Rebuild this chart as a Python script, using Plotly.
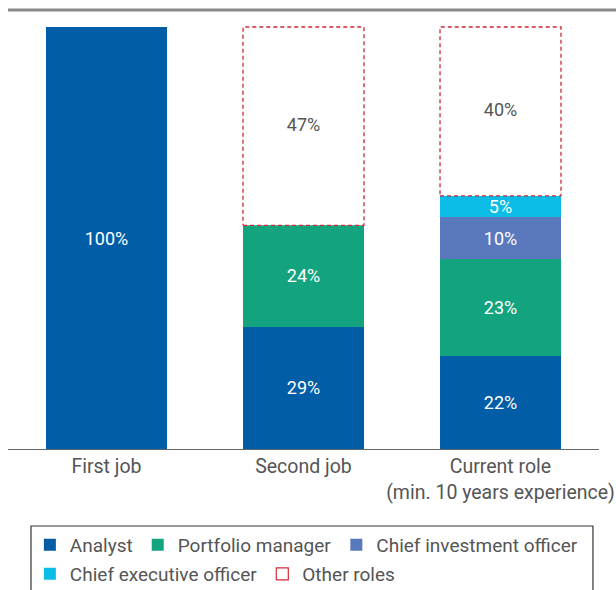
import plotly.graph_objects as go

categories = ["First job", "Second job", "Current role<br>(min. 10 years experience)"]
analyst = [100, 29, 22]
portfolio_manager = [None, 24, 23]
cio = [None, None, 10]
ceo = [None, None, 5]
other_roles = [None, 47, 40]

colors = {
    "Analyst": "#005DA6",
    "Portfolio manager": "#13A47F",
    "Chief investment officer": "#5A78BC",
    "Chief executive officer": "#0ABCE6",
    "Other roles": "#D0283A",
}

FONT = "Roboto"
TXT = "#555555"
BAR_W = 0.614
xs = list(range(len(categories)))

fig = go.Figure()

series = [
    ("Analyst", analyst, "legend"),
    ("Portfolio manager", portfolio_manager, "legend"),
    ("Chief investment officer", cio, "legend"),
    ("Chief executive officer", ceo, "legend2"),
]

for name, vals, lg in series:
    fig.add_trace(go.Bar(
        x=xs, y=[v if v is not None else 0 for v in vals],
        name=name, legend=lg,
        marker=dict(color=colors[name], line=dict(width=0)),
        width=BAR_W,
        text=[f"{v}%" if v else "" for v in vals],
        textposition="inside",
        insidetextanchor="middle",
        constraintext="none",
        textangle=0,
        textfont=dict(color="white", size=18, family=FONT),
        hoverinfo="skip",
    ))

# Other roles: dashed outline box built from data
px, py = [], []
tx, ty, tt = [], [], []
for i in xs:
    v = other_roles[i]
    if v is None:
        continue
    base = sum((s[1][i] or 0) for s in series)
    top = base + v
    x0, x1 = i - BAR_W / 2, i + BAR_W / 2
    px += [x0, x1, x1, x0, x0, None]
    py += [base, base, top, top, base, None]
    tx.append(i)
    ty.append(base + v / 2)
    tt.append(f"{v}%")

fig.add_trace(go.Scatter(
    x=px, y=py, mode="lines", fill="toself", fillcolor="white",
    line=dict(color=colors["Other roles"], width=1.3, dash="4px,3px"),
    name="Other roles", showlegend=False, hoverinfo="skip",
))
fig.add_trace(go.Scatter(
    x=tx, y=ty, mode="text", text=tt, showlegend=False,
    textfont=dict(color=TXT, size=18, family=FONT), hoverinfo="skip",
))
# legend entry for Other roles
fig.add_trace(go.Bar(
    x=[None], y=[None], name="Other roles", legend="legend2",
    marker=dict(color="white", line=dict(color=colors["Other roles"], width=1.2)),
    hoverinfo="skip",
))

legend_common = dict(
    orientation="h", xanchor="left", yanchor="middle",
    borderwidth=0, bgcolor="rgba(0,0,0,0)",
    font=dict(size=19, color=TXT, family=FONT),
    traceorder="normal", itemwidth=30,
)

fig.update_layout(
    width=616, height=590,
    margin=dict(l=8, r=17, t=10, b=141, autoexpand=False),
    barmode="stack",
    plot_bgcolor="white", paper_bgcolor="white",
    font=dict(family=FONT, size=19, color=TXT),
    xaxis=dict(
        tickmode="array", tickvals=xs, ticktext=categories,
        range=[-0.5, 2.5], showline=True, linecolor="#666666", linewidth=1,
        showgrid=False, zeroline=False, ticks="", fixedrange=True,
        tickfont=dict(size=19.5, color=TXT, family=FONT),
    ),
    yaxis=dict(range=[0, 104.03], visible=False, showgrid=False, fixedrange=True),
    legend=dict(x=0.037, y=-0.2187, **legend_common),
    legend2=dict(x=0.037, y=-0.2847, **legend_common),
    shapes=[
        dict(type="line", xref="paper", yref="paper", x0=0, x1=1.03, y0=1, y1=1,
             line=dict(color="#8a8a8a", width=3)),
        dict(type="rect", xref="paper", yref="paper", x0=0.0389, x1=0.9898,
             y0=-0.1754, y1=-0.344, line=dict(color="#333333", width=1.2)),
    ],
    showlegend=True,
    hovermode=False,
)

fig.write_html(
    "out.html",
    config={"displayModeBar": False, "staticPlot": False},
    post_script="document.body.style.margin='0';document.body.style.overflow='hidden';",
)
